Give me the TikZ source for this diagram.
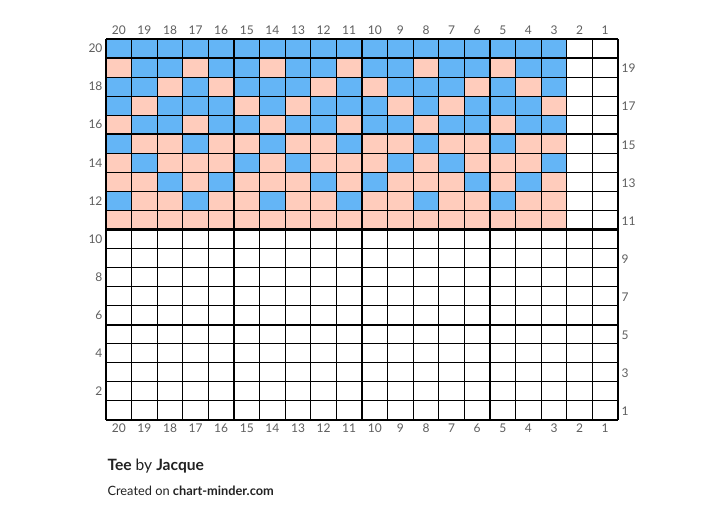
\documentclass[tikz,border=0pt]{standalone}
\usepackage{fontspec}
\setmainfont{Lato}
\usetikzlibrary{calc}
\definecolor{blue1}{RGB}{100, 181, 246}
\definecolor{pink1}{RGB}{255, 204, 188}
\definecolor{grey1}{RGB}{95, 95, 95}
\definecolor{ink1}{RGB}{34, 34, 34}

\begin{document}
\begin{tikzpicture}[x=1pt, y=1pt, line width=1.1pt]
  \tikzset{num/.style={font=\fontsize{12}{14}\selectfont, text=grey1, inner sep=0pt}}
  \useasboundingbox (0,0) rectangle (724,522);
  \fill[white] (0,0) rectangle (724,522);

  \fill[blue1] (106,387.75) rectangle (566.8,483);
  \fill[pink1] (106,292.5) rectangle (566.8,387.75);
  \foreach \r/\cols in {19/{20,17,14,11,8,5}, 18/{18,16,12,10,6,4}, 17/{19,15,13,9,7,3}, 16/{20,17,14,11,8,5}}
    \foreach \c in \cols
      \fill[pink1] ({106+(20-\c)*25.6},{102+(\r-1)*19.05}) rectangle +(25.6,19.05);
  \foreach \r/\cols in {15/{20,17,14,11,8,5}, 14/{19,15,13,9,7,3}, 13/{18,16,12,10,6,4}, 12/{20,17,14,11,8,5}}
    \foreach \c in \cols
      \fill[blue1] ({106+(20-\c)*25.6},{102+(\r-1)*19.05}) rectangle +(25.6,19.05);

  \foreach \i in {0,...,20}
    \draw ({106+\i*25.6},102) -- ({106+\i*25.6},483);
  \foreach \j in {0,...,20}
    \draw (106,{102+\j*19.05}) -- (618,{102+\j*19.05});
  \foreach \i in {0,5,10,15,20}
    \draw[line width=2.4pt] ({106+\i*25.6},102) -- ({106+\i*25.6},483);
  \foreach \j in {0,5,10,15,20}
    \draw[line width=2.4pt] (106,{102+\j*19.05}) -- (618,{102+\j*19.05});

  \foreach \c in {1,...,20} {
    \node[num] (top\c) at ({106+(20.5-\c)*25.6},492) {\c};
    \node[num] (bot\c) at ({106+(20.5-\c)*25.6},94) {\c};
  }
  \foreach \r in {2,4,...,20}
    \node[num, anchor=east] (left\r) at (103,{102+(\r-0.5)*19.05}) {\r};
  \foreach \r in {1,3,...,19}
    \node[num, anchor=west] (right\r) at (621,{101+(\r-0.5)*19.05}) {\r};

  \node[anchor=base west, inner sep=0pt, text=ink1, font=\fontsize{15.6}{18}\selectfont] (title) at (107,51)
    {\textbf{Tee} by \textbf{Jacque}};
  \node[anchor=base west, inner sep=0pt, text=ink1, font=\fontsize{12.8}{15}\selectfont] (credit) at (107,26.5)
    {Created on \textbf{chart-minder.com}};
\end{tikzpicture}
\end{document}
